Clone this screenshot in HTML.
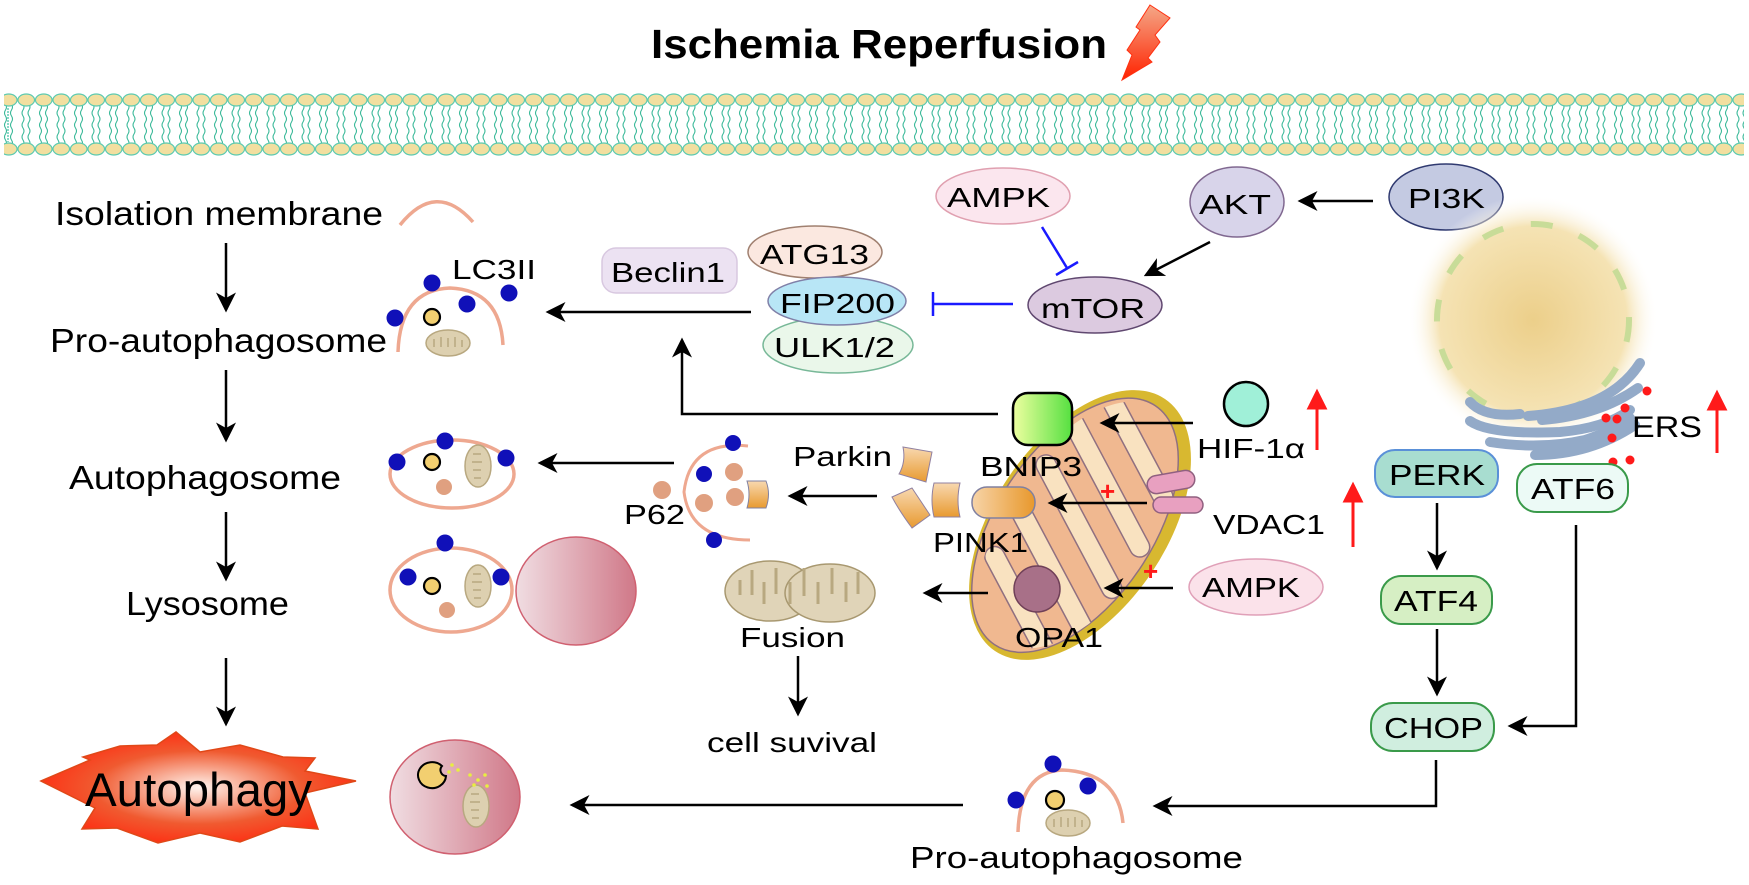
<!DOCTYPE html>
<html><head><meta charset="utf-8"><style>
html,body{margin:0;padding:0;background:#fff;}
svg{display:block;font-family:"Liberation Sans",Arial,sans-serif;}
</style></head><body>
<svg width="1749" height="885" viewBox="0 0 1749 885" xmlns="http://www.w3.org/2000/svg">
<defs>
<marker id="ah" markerWidth="8" markerHeight="8" refX="7" refY="4" orient="auto" markerUnits="strokeWidth">
<path d="M0,0 L8,4 L0,8 L2.2,4 Z" fill="#000"/></marker>
<linearGradient id="lys" x1="0" x2="1"><stop offset="0" stop-color="#f0dde2"/><stop offset="1" stop-color="#d07888"/></linearGradient>
<radialGradient id="burst" cx="0.5" cy="0.5" r="0.55"><stop offset="0" stop-color="#fff4ee"/><stop offset="0.6" stop-color="#f05a30"/><stop offset="1" stop-color="#ff2a10"/></radialGradient>
<radialGradient id="nuc" cx="0.5" cy="0.5" r="0.5"><stop offset="0" stop-color="#eccf8a"/><stop offset="0.75" stop-color="#f5e3b4"/><stop offset="1" stop-color="#fff" stop-opacity="0"/></radialGradient>
<linearGradient id="bolt" x1="0" y1="0" x2="0" y2="1"><stop offset="0" stop-color="#f4a888"/><stop offset="1" stop-color="#ff2200"/></linearGradient>
<linearGradient id="bnip" x1="0" x2="1"><stop offset="0" stop-color="#eeffa0"/><stop offset="1" stop-color="#55e040"/></linearGradient>
<linearGradient id="org" x1="0" y1="0" x2="0" y2="1"><stop offset="0" stop-color="#f8d8b0"/><stop offset="1" stop-color="#e89a30"/></linearGradient>
<linearGradient id="org2" x1="0" x2="1"><stop offset="0" stop-color="#f7d4a8"/><stop offset="1" stop-color="#e8982c"/></linearGradient>
<clipPath id="mclip"><ellipse cx="0" cy="0" rx="140" ry="75"/></clipPath>
<g id="mini"><ellipse cx="0" cy="0" rx="22" ry="13" fill="#ddd0b0" stroke="#b8a880" stroke-width="1.5"/><path d="M-14,4 v-8 M-7,-6 v10 M0,4 v-9 M7,-6 v10 M14,4 v-7" stroke="#b8a880" stroke-width="1.5" fill="none"/></g>
<g id="minv"><ellipse cx="0" cy="0" rx="13" ry="21" fill="#ddd0b0" stroke="#b8a880" stroke-width="1.5"/><path d="M-5,-12 h8 M-6,-4 h10 M-5,4 h8 M-4,12 h7" stroke="#b8a880" stroke-width="1.5" fill="none"/></g>
</defs>

<!-- title -->
<text x="651" y="58" font-size="41" font-weight="bold" textLength="456" lengthAdjust="spacingAndGlyphs">Ischemia Reperfusion</text>
<polygon points="1150,5 1170,18 1155,35 1160,42 1148,58 1152,62 1122,80 1132,55 1127,50 1140,30 1136,27" fill="url(#bolt)" stroke="#ff3010" stroke-width="1"/>

<!-- membrane -->
<g id="mem">
<path d="M0,0" />
</g>
<g stroke="#3cbfa0" stroke-width="1.2" fill="none">
<path d="M8,108 V142" stroke-dasharray="2 1"/>
</g>
<g id="lip"></g>
<script></script>
<g fill="none" stroke="#40c0a0" stroke-width="1.1">
<path id="tails" d=""/>
</g>
<g>
<!-- generated membrane heads -->
</g>
<svg x="0" y="90" width="1749" height="70" overflow="visible">
<defs>
<pattern id="lipid" x="0" y="0" width="17.5" height="70" patternUnits="userSpaceOnUse">
<path d="M5.5,14 q2,3 0,6 q-2,3 0,6 q2,3 0,6 q-2,3 0,6 q2,3 0,6 q-2,3 0,6 q2,3 0,6" stroke="#38b898" stroke-width="1.1" fill="none"/>
<path d="M11.5,14 q2,3 0,6 q-2,3 0,6 q2,3 0,6 q-2,3 0,6 q2,3 0,6 q-2,3 0,6 q2,3 0,6" stroke="#38b898" stroke-width="1.1" fill="none"/>
<ellipse cx="8.75" cy="10" rx="8.3" ry="6" fill="#f2dfa0" stroke="#5ccab0" stroke-width="1.2"/>
<ellipse cx="8.75" cy="59" rx="8.3" ry="6" fill="#f2dfa0" stroke="#5ccab0" stroke-width="1.2"/>
</pattern>
</defs>
<rect x="4" y="0" width="1740" height="70" fill="url(#lipid)"/>
</svg>

<!-- left column -->
<g font-size="33">
<text x="55" y="225" textLength="328" lengthAdjust="spacingAndGlyphs">Isolation membrane</text>
<text x="50" y="352" textLength="337" lengthAdjust="spacingAndGlyphs">Pro-autophagosome</text>
<text x="69" y="489" textLength="272" lengthAdjust="spacingAndGlyphs">Autophagosome</text>
<text x="126" y="615" textLength="163" lengthAdjust="spacingAndGlyphs">Lysosome</text>
</g>
<g stroke="#000" stroke-width="2.5" marker-end="url(#ah)">
<line x1="226" y1="243" x2="226" y2="310"/>
<line x1="226" y1="512" x2="226" y2="579"/>
<line x1="226" y1="658" x2="226" y2="724"/>
</g>
<line x1="226" y1="370" x2="226" y2="440" stroke="#000" stroke-width="2.5" marker-end="url(#ah)"/>
<path d="M400,225 Q436,180 473,222" fill="none" stroke="#eea890" stroke-width="3.5"/>

<!-- pro-autophagosome icon -->
<path d="M398,352 Q400,290 450,288 Q500,290 503,345" fill="none" stroke="#eea890" stroke-width="3.5"/>
<g fill="#1010b8"><circle cx="395" cy="318" r="8.5"/><circle cx="432" cy="283" r="8.5"/><circle cx="467" cy="304" r="8.5"/><circle cx="509" cy="293" r="8.5"/></g>
<circle cx="432" cy="317" r="8" fill="#f2cf70" stroke="#000" stroke-width="2.2"/>
<use href="#mini" x="448" y="343"/>
<text x="452" y="279" font-size="28" textLength="84" lengthAdjust="spacingAndGlyphs">LC3II</text>

<!-- autophagosome row -->
<ellipse cx="452" cy="474" rx="62" ry="34" fill="none" stroke="#eea890" stroke-width="3.5"/>
<g fill="#1010b8"><circle cx="397" cy="462" r="8.5"/><circle cx="445" cy="441" r="8.5"/><circle cx="506" cy="458" r="8.5"/></g>
<circle cx="432" cy="462" r="8" fill="#f2cf70" stroke="#000" stroke-width="2.2"/>
<use href="#minv" x="478" y="466"/>
<circle cx="444" cy="487" r="8" fill="#e0a080"/>

<!-- lysosome row -->
<ellipse cx="576" cy="591" rx="60" ry="54" fill="url(#lys)" stroke="#d06070" stroke-width="1.5"/>
<ellipse cx="451" cy="590" rx="61" ry="42" fill="#fff" stroke="#eea890" stroke-width="3.5"/>
<g fill="#1010b8"><circle cx="445" cy="543" r="8.5"/><circle cx="408" cy="577" r="8.5"/><circle cx="501" cy="577" r="8.5"/></g>
<circle cx="432" cy="586" r="8" fill="#f2cf70" stroke="#000" stroke-width="2.2"/>
<use href="#minv" x="478" y="586"/>
<circle cx="447" cy="610" r="8" fill="#e0a080"/>

<!-- autophagy burst -->
<polygon points="41,781 90,760 83,757 120,746 157,745 176,732 200,752 240,745 283,757 315,758 305,771 356,781 305,793 318,829 282,826 240,842 200,833 158,843 117,828 82,829 95,808" fill="url(#burst)" stroke="#e04818" stroke-width="1.5"/>
<text x="85" y="806" font-size="47" textLength="227" lengthAdjust="spacingAndGlyphs">Autophagy</text>
<ellipse cx="455" cy="797" rx="65" ry="57" fill="url(#lys)" stroke="#d06070" stroke-width="1.5"/>
<path d="M446,776 a14,13 0 1,1 -4,-10 a6,6 0 0,0 4,10 Z" fill="#f2cf70" stroke="#000" stroke-width="2"/>
<use href="#minv" x="476" y="806"/>
<g fill="#e8ee40"><circle cx="452" cy="765" r="1.8"/><circle cx="458" cy="770" r="1.8"/><circle cx="449" cy="772" r="1.8"/><circle cx="470" cy="775" r="1.8"/><circle cx="478" cy="780" r="1.8"/><circle cx="485" cy="775" r="1.8"/><circle cx="474" cy="785" r="1.8"/><circle cx="487" cy="786" r="1.8"/></g>
<line x1="963" y1="805" x2="572" y2="805" stroke="#000" stroke-width="2.5" marker-end="url(#ah)"/>

<!-- top signalling -->
<rect x="602" y="248" width="135" height="45" rx="14" fill="#ece2f2" stroke="#d8c8e0" stroke-width="1.5"/>
<text x="611" y="282" font-size="28" textLength="114" lengthAdjust="spacingAndGlyphs">Beclin1</text>
<ellipse cx="838" cy="345" rx="75" ry="28" fill="#eaf7ea" stroke="#78b898" stroke-width="1.5"/>
<text x="774" y="357" font-size="28" textLength="121" lengthAdjust="spacingAndGlyphs">ULK1/2</text>
<ellipse cx="815" cy="252" rx="67" ry="26" fill="#fbe8e0" stroke="#a08070" stroke-width="1.5"/>
<text x="760" y="264" font-size="28" textLength="109" lengthAdjust="spacingAndGlyphs">ATG13</text>
<ellipse cx="837" cy="301" rx="69" ry="24" fill="#b8e6f6" stroke="#8080a8" stroke-width="1.5"/>
<text x="780" y="313" font-size="28" textLength="115" lengthAdjust="spacingAndGlyphs">FIP200</text>
<line x1="751" y1="312" x2="548" y2="312" stroke="#000" stroke-width="2.5" marker-end="url(#ah)"/>

<ellipse cx="1003" cy="196" rx="67" ry="28" fill="#fbe6ee" stroke="#e0a0b0" stroke-width="1.5"/>
<text x="947" y="207" font-size="28" textLength="103" lengthAdjust="spacingAndGlyphs">AMPK</text>
<ellipse cx="1095" cy="305" rx="67" ry="28" fill="#dccae0" stroke="#604870" stroke-width="1.5"/>
<text x="1041" y="318" font-size="28" textLength="104" lengthAdjust="spacingAndGlyphs">mTOR</text>
<ellipse cx="1237" cy="202" rx="47" ry="35" fill="#d8d4ea" stroke="#806890" stroke-width="1.5"/>
<text x="1199" y="214" font-size="28" textLength="72" lengthAdjust="spacingAndGlyphs">AKT</text>
<ellipse cx="1446" cy="197" rx="57" ry="33" fill="#c4cae2" stroke="#303a70" stroke-width="1.5"/>
<text x="1408" y="208" font-size="28" textLength="77" lengthAdjust="spacingAndGlyphs">PI3K</text>
<line x1="1373" y1="201" x2="1300" y2="201" stroke="#000" stroke-width="2.5" marker-end="url(#ah)"/>
<line x1="1210" y1="242" x2="1146" y2="275" stroke="#000" stroke-width="2.5" marker-end="url(#ah)"/>
<g stroke="#1a1aff" stroke-width="2.5" fill="none">
<line x1="1013" y1="304" x2="933" y2="304"/><line x1="933" y1="292" x2="933" y2="316"/>
<line x1="1042" y1="227" x2="1067" y2="268"/><line x1="1056" y1="275" x2="1078" y2="262"/>
</g>

<!-- BNIP3 line up -->
<path d="M998,414 H682 V340" fill="none" stroke="#000" stroke-width="2.5" marker-end="url(#ah)"/>

<!-- mitochondrion -->
<g transform="translate(1080,525) rotate(-56)">
<ellipse cx="0" cy="0" rx="152" ry="86" fill="#d8b830"/>
<ellipse cx="-3" cy="-4" rx="144" ry="78" fill="#f0b890" stroke="#907080" stroke-width="1.5"/>
<g clip-path="url(#mclip)" fill="#f9e2c0" stroke="#907080" stroke-width="1.5">
<rect x="-112" y="-70" width="20" height="140" rx="10" transform="rotate(28 -102 0)"/>
<rect x="-62" y="-80" width="20" height="160" rx="10" transform="rotate(28 -52 0)"/>
<rect x="-12" y="-80" width="20" height="160" rx="10" transform="rotate(28 -2 0)"/>
<rect x="38" y="-80" width="20" height="160" rx="10" transform="rotate(28 48 0)"/>
<rect x="88" y="-70" width="20" height="140" rx="10" transform="rotate(28 98 0)"/>
</g>
</g>
<circle cx="1037" cy="589" r="23" fill="#a87088" stroke="#704058" stroke-width="1.5"/>
<rect x="1013" y="393" width="59" height="52" rx="15" fill="url(#bnip)" stroke="#000" stroke-width="2.5"/>
<rect x="972" y="487" width="63" height="31" rx="15" fill="url(#org2)" stroke="#8080a0" stroke-width="1.5"/>
<g fill="url(#org)" stroke="#9080a0" stroke-width="1">
<path d="M903,447 L932,452 L926,482 L899,474 Q906,462 903,447Z"/>
<path d="M934,483 L960,483 Q956,500 960,517 L934,517 Q930,500 934,483Z"/>
<path d="M892,497 L912,488 L930,515 L912,528 Q900,512 892,497Z"/>
</g>
<rect x="1147" y="473" width="48" height="18" rx="9" fill="#e8a0c0" stroke="#906080" stroke-width="1.5" transform="rotate(-10 1171 482)"/>
<rect x="1153" y="497" width="50" height="16" rx="8" fill="#e8a0c0" stroke="#906080" stroke-width="1.5"/>
<circle cx="1246" cy="404" r="22" fill="#a0f0d8" stroke="#000" stroke-width="2.5"/>
<g stroke="#000" stroke-width="2.5" marker-end="url(#ah)">
<line x1="1193" y1="423" x2="1102" y2="423"/>
<line x1="1147" y1="503" x2="1050" y2="503"/>
<line x1="1173" y1="588" x2="1106" y2="588"/>
<line x1="988" y1="593" x2="925" y2="593"/>
<line x1="877" y1="496" x2="790" y2="496"/>
<line x1="674" y1="463" x2="540" y2="463"/>
<line x1="798" y1="656" x2="798" y2="714"/>
</g>
<g fill="#ff1a1a" font-size="26" font-weight="bold"><text x="1100" y="500">+</text><text x="1143" y="580">+</text></g>
<g stroke="#ff1a1a" stroke-width="3" fill="#ff1a1a">
<line x1="1317" y1="450" x2="1317" y2="405"/><polygon points="1309,408 1317,392 1325,408"/>
<line x1="1353" y1="547" x2="1353" y2="498"/><polygon points="1345,501 1353,485 1361,501"/>
<line x1="1717" y1="453" x2="1717" y2="406"/><polygon points="1709,409 1717,393 1725,409"/>
</g>
<ellipse cx="1256" cy="587" rx="67" ry="28" fill="#fbe2ea" stroke="#e0a0b8" stroke-width="1.5"/>
<g font-size="28">
<text x="1202" y="597" textLength="98" lengthAdjust="spacingAndGlyphs">AMPK</text>
<text x="1197" y="458" textLength="108" lengthAdjust="spacingAndGlyphs">HIF-1α</text>
<text x="980" y="476" textLength="102" lengthAdjust="spacingAndGlyphs">BNIP3</text>
<text x="793" y="466" textLength="99" lengthAdjust="spacingAndGlyphs">Parkin</text>
<text x="624" y="524" textLength="61" lengthAdjust="spacingAndGlyphs">P62</text>
<text x="933" y="552" textLength="95" lengthAdjust="spacingAndGlyphs">PINK1</text>
<text x="1213" y="534" textLength="112" lengthAdjust="spacingAndGlyphs">VDAC1</text>
<text x="1015" y="647" textLength="88" lengthAdjust="spacingAndGlyphs">OPA1</text>
<text x="740" y="647" textLength="105" lengthAdjust="spacingAndGlyphs">Fusion</text>
<text x="707" y="752" textLength="170" lengthAdjust="spacingAndGlyphs">cell suvival</text>
<text x="910" y="868" font-size="31" textLength="333" lengthAdjust="spacingAndGlyphs">Pro-autophagosome</text>
</g>

<!-- P62 structure -->
<path d="M748,446 Q690,440 684,492 Q690,540 750,540" fill="none" stroke="#eea890" stroke-width="3"/>
<g fill="#e0a080"><circle cx="734" cy="472" r="9"/><circle cx="735" cy="497" r="9"/><circle cx="704" cy="503" r="9"/><circle cx="662" cy="490" r="9"/></g>
<g fill="#1010b8"><circle cx="733" cy="443" r="8"/><circle cx="704" cy="474" r="8"/><circle cx="714" cy="540" r="8"/></g>
<path d="M747,481 H766 Q771,494 766,508 H747 Q751,494 747,481Z" fill="url(#org)" stroke="#8080a0" stroke-width="1"/>

<!-- fusion mito -->
<ellipse cx="770" cy="591" rx="45" ry="30" fill="#e0d4b8" stroke="#a89870" stroke-width="1.5"/>
<ellipse cx="830" cy="593" rx="45" ry="29" fill="#e0d4b8" stroke="#a89870" stroke-width="1.5"/>
<path d="M740,580 v15 M752,570 v25 M764,582 v22 M776,568 v26 M790,582 v22 M804,568 v28 M818,582 v22 M832,568 v26 M846,582 v20 M858,572 v22" stroke="#b8a880" stroke-width="3" fill="none"/>

<!-- bottom pro-autophagosome -->
<path d="M1018,832 Q1020,772 1062,770 Q1118,772 1123,823" fill="none" stroke="#eea890" stroke-width="3.5"/>
<g fill="#1010b8"><circle cx="1053" cy="764" r="8.5"/><circle cx="1016" cy="800" r="8.5"/><circle cx="1088" cy="786" r="8.5"/></g>
<circle cx="1055" cy="800" r="9" fill="#f2cf70" stroke="#000" stroke-width="2.2"/>
<use href="#mini" x="1068" y="823"/>

<!-- nucleus / ER -->
<circle cx="1533" cy="320" r="125" fill="url(#nuc)"/>
<circle cx="1533" cy="320" r="96" fill="none" stroke="#c8dc98" stroke-width="6" stroke-dasharray="22 28"/>
<g fill="none" stroke="#93aac8" stroke-width="10" stroke-linecap="round">
<path d="M1640,363 Q1610,410 1528,416"/>
<path d="M1638,388 Q1600,415 1542,420"/>
<path d="M1470,402 Q1485,418 1520,414"/>
<path d="M1470,421 Q1490,435 1560,432 Q1605,428 1630,410"/>
<path d="M1490,442 Q1540,450 1585,440 Q1615,430 1630,418"/>
<path d="M1535,455 Q1590,455 1635,425"/>
</g>
<g fill="#ff1a1a"><circle cx="1647" cy="391" r="4.5"/><circle cx="1625" cy="408" r="4.5"/><circle cx="1606" cy="418" r="4.5"/><circle cx="1617" cy="419" r="4.5"/><circle cx="1612" cy="438" r="4.5"/><circle cx="1613" cy="462" r="4.5"/><circle cx="1630" cy="460" r="4.5"/></g>
<text x="1632" y="437" font-size="30" textLength="70" lengthAdjust="spacingAndGlyphs">ERS</text>

<!-- ER stress pathway -->
<rect x="1375" y="450" width="123" height="47" rx="20" fill="#a8ddd0" stroke="#5a90d8" stroke-width="2"/>
<text x="1389" y="485" font-size="29" textLength="96" lengthAdjust="spacingAndGlyphs">PERK</text>
<rect x="1517" y="464" width="111" height="48" rx="20" fill="#ecfaf6" stroke="#3a9a4a" stroke-width="2"/>
<text x="1531" y="499" font-size="29" textLength="84" lengthAdjust="spacingAndGlyphs">ATF6</text>
<rect x="1381" y="576" width="111" height="48" rx="20" fill="#d6efc4" stroke="#3a9a4a" stroke-width="2"/>
<text x="1394" y="611" font-size="29" textLength="84" lengthAdjust="spacingAndGlyphs">ATF4</text>
<rect x="1371" y="703" width="123" height="48" rx="22" fill="#d0eedf" stroke="#3a9a4a" stroke-width="2"/>
<text x="1384" y="738" font-size="29" textLength="99" lengthAdjust="spacingAndGlyphs">CHOP</text>
<g stroke="#000" stroke-width="2.5" fill="none" marker-end="url(#ah)">
<line x1="1437" y1="503" x2="1437" y2="568"/>
<line x1="1437" y1="629" x2="1437" y2="694"/>
<path d="M1576,525 V726 H1510"/>
<path d="M1436,760 V806 H1155"/>
</g>
</svg>
</body></html>
